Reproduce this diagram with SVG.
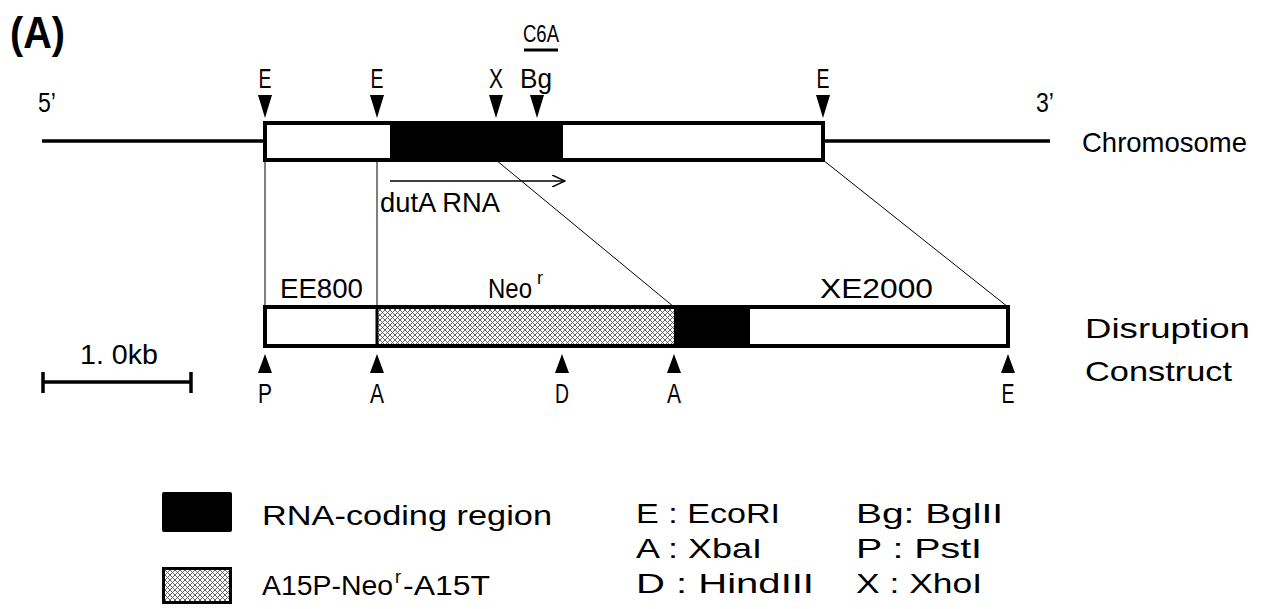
<svg xmlns="http://www.w3.org/2000/svg" width="1266" height="609" viewBox="0 0 1266 609">
<style>
text{font-family:"Liberation Sans","DejaVu Sans",sans-serif;fill:#000;}
.lb{font-size:28px;}
.sup{font-size:18px;}
.big{font-size:44px;font-weight:bold;}
.thick{stroke:#000;stroke-width:3.5;fill:none;}
.thin{stroke:#000;stroke-width:1;fill:none;}
.box{stroke:#000;stroke-width:4;}
.tri{fill:#000;}
</style>
<defs>
<pattern id="hatch" width="5" height="5" patternUnits="userSpaceOnUse">
<rect width="5" height="5" fill="#fff"/>
<path d="M0,0L5,5M5,0L0,5" stroke="#555" stroke-width="0.9"/>
</pattern>
<marker id="arr" markerWidth="14" markerHeight="12" refX="13" refY="6" orient="auto" markerUnits="userSpaceOnUse">
<path d="M0,0L13,6L0,12" fill="none" stroke="#000" stroke-width="1.5"/>
</marker>
</defs>

<text class="big" x="10" y="48" textLength="55" lengthAdjust="spacingAndGlyphs">(A)</text>

<g id="chromosome">
<line class="thick" x1="42" y1="141" x2="265" y2="141"/>
<line class="thick" x1="823" y1="141" x2="1050" y2="141"/>
<rect x="265" y="123" width="558" height="37" fill="#fff" class="box"/>
<rect x="390" y="123" width="173" height="37" fill="#000"/>
<text class="lb" x="38" y="112" textLength="18" lengthAdjust="spacingAndGlyphs">5’</text>
<text class="lb" x="1036" y="112" textLength="18" lengthAdjust="spacingAndGlyphs">3’</text>
<text class="lb" x="1082" y="152" textLength="165" lengthAdjust="spacingAndGlyphs">Chromosome</text>
</g>

<g id="chrom-sites">
<path class="tri" d="M258,95L272,95L265,118Z M370,95L384,95L377,118Z M489,95L503,95L496,118Z M530,95L544,95L537,118Z M816,95L830,95L823,118Z"/>
<text class="lb" x="265" y="88" text-anchor="middle" textLength="13" lengthAdjust="spacingAndGlyphs">E</text>
<text class="lb" x="377" y="88" text-anchor="middle" textLength="13" lengthAdjust="spacingAndGlyphs">E</text>
<text class="lb" x="496" y="88" text-anchor="middle" textLength="14" lengthAdjust="spacingAndGlyphs">X</text>
<text class="lb" x="536" y="88" text-anchor="middle" textLength="32" lengthAdjust="spacingAndGlyphs">Bg</text>
<text class="lb" x="823" y="88" text-anchor="middle" textLength="13" lengthAdjust="spacingAndGlyphs">E</text>
<text x="541" y="42" text-anchor="middle" style="font-size:24px" textLength="36" lengthAdjust="spacingAndGlyphs">C6A</text>
<line x1="524" y1="50" x2="558" y2="50" stroke="#000" stroke-width="3"/>
</g>

<g id="dutA">
<line x1="390" y1="181" x2="565" y2="181" stroke="#000" stroke-width="1.5" marker-end="url(#arr)"/>
<text class="lb" x="380" y="212" textLength="120" lengthAdjust="spacingAndGlyphs">dutA RNA</text>
</g>

<g id="connectors">
<line class="thin" x1="265" y1="160" x2="265" y2="307"/>
<line class="thin" x1="377" y1="160" x2="377" y2="307"/>
<line class="thin" x1="496" y1="160" x2="674" y2="307"/>
<line class="thin" x1="823" y1="160" x2="1008" y2="307"/>
</g>

<g id="construct">
<rect x="265" y="307" width="743" height="39" fill="#fff" class="box"/>
<rect x="377" y="309" width="297" height="35" fill="url(#hatch)"/>
<line x1="377" y1="307" x2="377" y2="346" stroke="#000" stroke-width="3"/>
<rect x="674" y="307" width="76" height="39" fill="#000"/>
<text class="lb" x="280" y="298" textLength="83" lengthAdjust="spacingAndGlyphs">EE800</text>
<text class="lb" x="488" y="298" textLength="44" lengthAdjust="spacingAndGlyphs">Neo</text>
<text class="sup" x="537" y="284">r</text>
<text class="lb" x="820" y="298" textLength="113" lengthAdjust="spacingAndGlyphs">XE2000</text>
<text class="lb" x="1085" y="338" textLength="165" lengthAdjust="spacingAndGlyphs">Disruption</text>
<text class="lb" x="1085" y="381" textLength="147" lengthAdjust="spacingAndGlyphs">Construct</text>
</g>

<g id="construct-sites">
<path class="tri" d="M258,373L272,373L265,354Z M370,373L384,373L377,354Z M555,373L569,373L562,354Z M667,373L681,373L674,354Z M1001,373L1015,373L1008,354Z"/>
<text class="lb" x="265" y="403" text-anchor="middle" textLength="14" lengthAdjust="spacingAndGlyphs">P</text>
<text class="lb" x="377" y="403" text-anchor="middle" textLength="14" lengthAdjust="spacingAndGlyphs">A</text>
<text class="lb" x="562" y="403" text-anchor="middle" textLength="14" lengthAdjust="spacingAndGlyphs">D</text>
<text class="lb" x="674" y="403" text-anchor="middle" textLength="14" lengthAdjust="spacingAndGlyphs">A</text>
<text class="lb" x="1008" y="403" text-anchor="middle" textLength="13" lengthAdjust="spacingAndGlyphs">E</text>
</g>

<g id="scale">
<text class="lb" x="80" y="364" textLength="78" lengthAdjust="spacingAndGlyphs">1. 0kb</text>
<line x1="42" y1="382" x2="192" y2="382" stroke="#000" stroke-width="3.5"/>
<line x1="43" y1="372" x2="43" y2="393" stroke="#000" stroke-width="3.5"/>
<line x1="191" y1="372" x2="191" y2="393" stroke="#000" stroke-width="3.5"/>
</g>

<g id="legend">
<rect x="162" y="492" width="70" height="40" rx="2" fill="#000"/>
<rect x="163.5" y="568.5" width="67" height="34" fill="url(#hatch)" stroke="#000" stroke-width="3"/>
<text class="lb" x="262" y="525" textLength="290" lengthAdjust="spacingAndGlyphs">RNA-coding region</text>
<text class="lb" x="262" y="595"><tspan textLength="131" lengthAdjust="spacingAndGlyphs">A15P-Neo</tspan><tspan class="sup" dx="2" dy="-12">r</tspan><tspan dx="2" dy="12" textLength="87" lengthAdjust="spacingAndGlyphs">-A15T</tspan></text>
</g>

<g id="enzymes">
<text class="lb" x="636" y="523" textLength="144" lengthAdjust="spacingAndGlyphs">E : EcoRI</text>
<text class="lb" x="636" y="558" textLength="126" lengthAdjust="spacingAndGlyphs">A : XbaI</text>
<text class="lb" x="636" y="593" textLength="178" lengthAdjust="spacingAndGlyphs">D : HindIII</text>
<text class="lb" x="856" y="523" textLength="147" lengthAdjust="spacingAndGlyphs">Bg: BglII</text>
<text class="lb" x="856" y="558" textLength="126" lengthAdjust="spacingAndGlyphs">P : PstI</text>
<text class="lb" x="856" y="593" textLength="126" lengthAdjust="spacingAndGlyphs">X : XhoI</text>
</g>
</svg>
